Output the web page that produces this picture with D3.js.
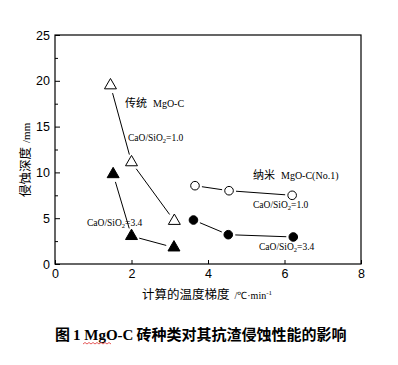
<!DOCTYPE html>
<html><head><meta charset="utf-8">
<script src="https://cdn.jsdelivr.net/npm/d3@7"></script>
<style>
body{margin:0;background:#fff;}
svg{display:block;}
</style></head><body>
<svg id="c" width="398" height="365"></svg>
<script>
// ---- data ----
const tradOpenX = [1.45, 2.0, 3.12];   // 传统 MgO-C, CaO/SiO2=1.0
const tradOpenY = [19.5, 11.1, 4.7];
const tradFillX = [1.52, 2.0, 3.11];   // 传统 MgO-C, CaO/SiO2=3.4
const tradFillY = [9.8, 3.05, 1.8];
const nanoOpenX = [3.66, 4.55, 6.2];   // 纳米 MgO-C, CaO/SiO2=1.0
const nanoOpenY = [8.55, 8.0, 7.5];
const nanoFillX = [3.62, 4.53, 6.23];  // 纳米 MgO-C, CaO/SiO2=3.4
const nanoFillY = [4.8, 3.2, 2.95];
const xTicks = [0, 2, 4, 6, 8];
const yTicks = [0, 5, 10, 15, 20, 25];
const yMinor = [2.5, 7.5, 12.5, 17.5, 22.5];

const svg = d3.select("#c");
const L = 55, R = 361, T = 35, B = 264;
const x = d3.scaleLinear().domain([0, 8]).range([L, R]);
const y = d3.scaleLinear().domain([0, 25]).range([B, T]);

// frame
svg.append("rect").attr("x", L).attr("y", T).attr("width", R - L).attr("height", B - T)
  .attr("fill", "none").attr("stroke", "#000").attr("stroke-width", 1.2);

const ya = svg.append("g").attr("transform", `translate(${L},0)`)
  .call(d3.axisLeft(y).tickValues(yTicks).tickSize(-5).tickPadding(5));
ya.select(".domain").remove();
ya.selectAll("text").attr("font-family", "Liberation Sans, Arial, sans-serif").attr("font-size", 12.5).attr("fill", "#000");
const ym = svg.append("g").attr("transform", `translate(${L},0)`)
  .call(d3.axisLeft(y).tickValues(yMinor).tickSize(-3).tickFormat(""));
ym.select(".domain").remove();

const xa = svg.append("g").attr("transform", `translate(0,${B})`)
  .call(d3.axisBottom(x).tickValues(xTicks).tickSize(-4).tickPadding(5));
xa.select(".domain").remove();
xa.selectAll("text").attr("font-family", "Liberation Sans, Arial, sans-serif").attr("font-size", 12.5).attr("fill", "#000");

// connecting lines with gaps near markers
function gapLines(xs, ys, gap) {
  for (let i = 0; i < xs.length - 1; i++) {
    const x1 = x(xs[i]), y1 = y(ys[i]), x2 = x(xs[i + 1]), y2 = y(ys[i + 1]);
    const d = Math.hypot(x2 - x1, y2 - y1), ux = (x2 - x1) / d, uy = (y2 - y1) / d;
    svg.append("line")
      .attr("x1", x1 + ux * gap).attr("y1", y1 + uy * gap)
      .attr("x2", x2 - ux * gap).attr("y2", y2 - uy * gap)
      .attr("stroke", "#000").attr("stroke-width", 1);
  }
}
gapLines(tradOpenX, tradOpenY, 8);
gapLines(tradFillX, tradFillY, 8);
gapLines(nanoOpenX, nanoOpenY, 7);
gapLines(nanoFillX, nanoFillY, 7);

const tri = d3.symbol().type(d3.symbolTriangle).size(62);
function tris(xs, ys, fill) {
  svg.append("g").selectAll("path").data(xs).join("path")
    .attr("d", tri).attr("transform", (d, i) => `translate(${x(d)},${y(ys[i])})`)
    .attr("fill", fill).attr("stroke", "#000").attr("stroke-width", 1);
}
function circs(xs, ys, fill) {
  svg.append("g").selectAll("circle").data(xs).join("circle")
    .attr("cx", d => x(d)).attr("cy", (d, i) => y(ys[i])).attr("r", 4.3)
    .attr("fill", fill).attr("stroke", "#000").attr("stroke-width", 1);
}
tris(tradOpenX, tradOpenY, "#fff");
tris(tradFillX, tradFillY, "#000");
circs(nanoOpenX, nanoOpenY, "#fff");
circs(nanoFillX, nanoFillY, "#000");

// annotations
const cjk = "Noto Sans CJK SC, sans-serif", ser = "Liberation Serif, serif";
function label(px, py, cn, lat) {
  const t = svg.append("text").attr("x", px).attr("y", py).attr("fill", "#000");
  t.append("tspan").attr("font-family", cjk).attr("font-size", 11).text(cn);
  t.append("tspan").attr("font-family", ser).attr("font-size", 10).attr("dx", 6).text(lat);
}
label(125, 107, "传统", "MgO-C");
label(253, 179, "纳米", "MgO-C(No.1)");
function ratio(px, py, v) {
  const t = svg.append("text").attr("x", px).attr("y", py).attr("font-family", ser)
    .attr("font-size", 9.5).attr("fill", "#000");
  t.append("tspan").text("CaO/SiO");
  t.append("tspan").attr("font-size", 6.5).attr("dy", 1.5).text("2");
  t.append("tspan").attr("dy", -1.5).text("=" + v);
}
ratio(128, 141, "1.0");
ratio(87, 226, "3.4");
ratio(253, 208, "1.0");
ratio(259, 250, "3.4");

// axis titles
const xt = svg.append("text").attr("x", 142).attr("y", 299).attr("fill", "#000");
xt.append("tspan").attr("font-family", cjk).attr("font-size", 12.5).text("计算的温度梯度");
xt.append("tspan").attr("font-family", ser).attr("font-size", 10).attr("dx", 5).text("/℃·min");
xt.append("tspan").attr("font-family", ser).attr("font-size", 7).attr("dy", -4).text("-1");

const yt = svg.append("text").attr("transform", "translate(30,197) rotate(-90)").attr("fill", "#000");
yt.append("tspan").attr("font-family", cjk).attr("font-size", 12.5).text("侵蚀深度");
yt.append("tspan").attr("font-family", ser).attr("font-size", 11).attr("dx", 4).text("/mm");

// caption
const cap = svg.append("text").attr("x", 55).attr("y", 340).attr("fill", "#000").attr("font-weight", "bold");
cap.append("tspan").attr("font-family", cjk).attr("font-size", 15).text("图");
cap.append("tspan").attr("font-family", ser).attr("font-size", 15).attr("dx", 3).text("1 MgO-C");
cap.append("tspan").attr("font-family", cjk).attr("font-size", 15).attr("dx", 3).text("砖种类对其抗渣侵蚀性能的影响");
// spell-check style wavy underline under "MgO"
let wp = "M83,344";
for (let i = 0; i < 14; i++) wp += ` l2,${i % 2 ? 1.5 : -1.5}`;
svg.append("path").attr("d", wp).attr("fill", "none").attr("stroke", "#e03030").attr("stroke-width", 0.8);
</script>
</body></html>
